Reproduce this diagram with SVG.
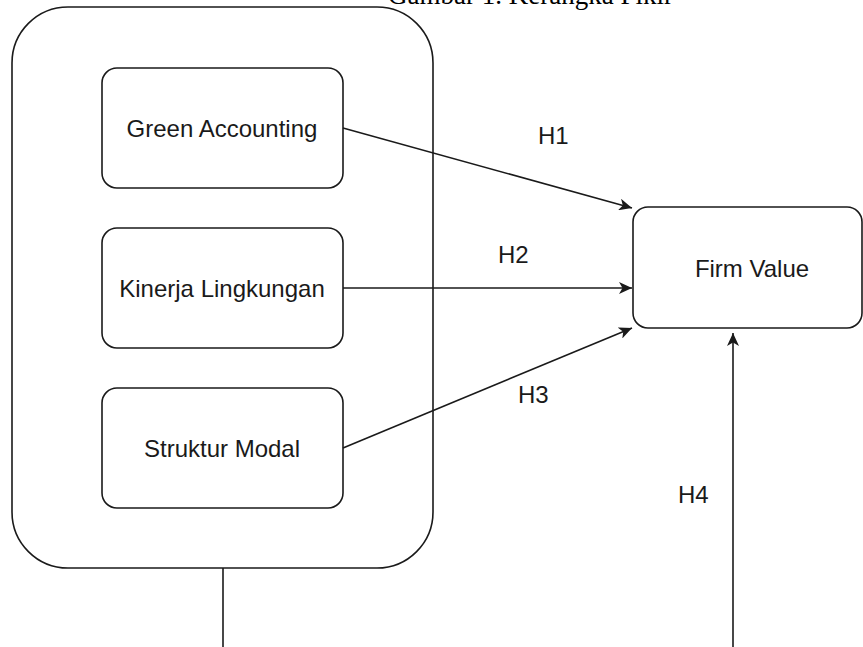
<svg xmlns="http://www.w3.org/2000/svg" width="863" height="647" viewBox="0 0 863 647">
<defs>
<style>
.box{fill:#fff;stroke:#1a1a1a;stroke-width:1.6}
.lbl{font-family:"Liberation Sans",Arial,sans-serif;font-size:24px;fill:#1a1a1a}
.edge{fill:none;stroke:#1a1a1a;stroke-width:1.6}
.title{font-family:"Liberation Serif","Times New Roman",serif;font-size:27px;fill:#000}
</style>
<marker id="arr" markerUnits="userSpaceOnUse" markerWidth="14" markerHeight="12" refX="13" refY="6" orient="auto">
<path d="M0,0 L13,6 L0,12 L3.5,6 Z" fill="#1a1a1a"/>
</marker>
</defs>
<rect width="863" height="647" fill="#fff"/>
<text class="title" x="388" y="4">Gambar 1. Kerangka Pikir</text>
<g id="group-outer">
<rect class="box" x="12" y="7" width="421" height="561" rx="56" ry="56"/>
</g>
<g id="node-green">
<rect class="box" x="102" y="68" width="241" height="120" rx="15" ry="15"/>
<text class="lbl" x="222" y="137" text-anchor="middle">Green Accounting</text>
</g>
<g id="node-kinerja">
<rect class="box" x="102" y="228" width="241" height="120" rx="15" ry="15"/>
<text class="lbl" x="222" y="297" text-anchor="middle">Kinerja Lingkungan</text>
</g>
<g id="node-struktur">
<rect class="box" x="102" y="388" width="241" height="120" rx="15" ry="15"/>
<text class="lbl" x="222" y="457" text-anchor="middle">Struktur Modal</text>
</g>
<g id="node-firm">
<rect class="box" x="633" y="207" width="229" height="121" rx="15" ry="15"/>
<text class="lbl" x="752" y="277" text-anchor="middle">Firm Value</text>
</g>
<g id="connectors">
<line class="edge" x1="343" y1="128" x2="632" y2="208" marker-end="url(#arr)"/>
<line class="edge" x1="343" y1="288" x2="632" y2="288" marker-end="url(#arr)"/>
<line class="edge" x1="343" y1="448" x2="632" y2="328" marker-end="url(#arr)"/>
<line class="edge" x1="733" y1="647" x2="733" y2="333" marker-end="url(#arr)"/>
<line class="edge" x1="223" y1="568" x2="223" y2="647"/>
<text class="lbl" x="538" y="144">H1</text>
<text class="lbl" x="498" y="263">H2</text>
<text class="lbl" x="518" y="403">H3</text>
<text class="lbl" x="678" y="503">H4</text>
</g>
</svg>
